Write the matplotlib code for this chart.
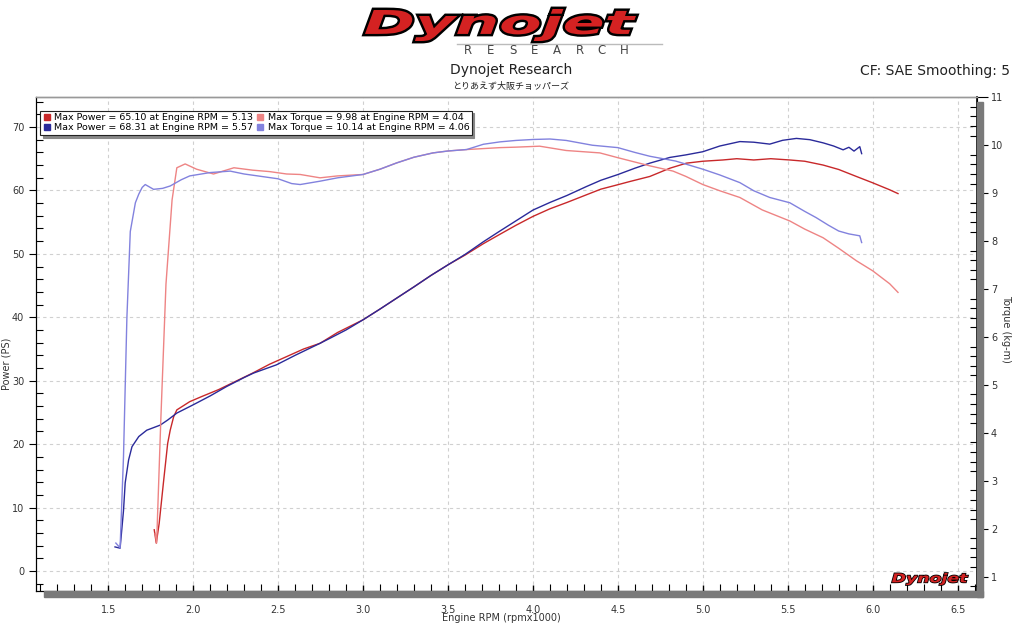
import matplotlib
matplotlib.use("Agg")
import matplotlib.pyplot as plt
import matplotlib.patheffects as pe
from matplotlib.font_manager import FontProperties
from matplotlib.lines import Line2D
from matplotlib.patches import PathPatch, Rectangle
from matplotlib.textpath import TextPath
from matplotlib.ticker import FormatStrFormatter, MultipleLocator
from matplotlib.transforms import Affine2D

plt.rcParams["font.family"] = ["DejaVu Sans", "Noto Sans CJK JP"]

# run 1 (red) power, PS
rpm_power_1 = [1.771, 1.783, 1.80, 1.825, 1.85, 1.865, 1.885, 1.904, 1.98, 2.05, 2.15, 2.25,
               2.35, 2.45, 2.55, 2.65, 2.747, 2.85, 3.0, 3.1, 3.197, 3.3, 3.4, 3.502, 3.6,
               3.708, 3.8, 3.9, 4.0, 4.1, 4.2, 4.314, 4.4, 4.5, 4.57, 4.688, 4.806, 4.904,
               5.0, 5.118, 5.2, 5.3, 5.4, 5.512, 5.6, 5.708, 5.8, 5.904, 6.0, 6.1, 6.149]
power_1 = [6.5, 4.4, 7.5, 13.9, 20.1, 22.2, 24.3, 25.4, 26.7, 27.5, 28.6, 29.9,
           31.2, 32.6, 33.8, 35.0, 35.9, 37.6, 39.6, 41.3, 43.0, 44.8, 46.6, 48.3, 49.8,
           51.6, 53.0, 54.5, 55.9, 57.1, 58.1, 59.3, 60.2, 60.9, 61.4, 62.2, 63.5, 64.3,
           64.6, 64.8, 65.0, 64.8, 65.0, 64.8, 64.6, 64.0, 63.3, 62.2, 61.2, 60.1, 59.5]

# run 2 (blue) power, PS
rpm_power_2 = [1.54, 1.57, 1.59, 1.60, 1.62, 1.64, 1.68, 1.727, 1.806, 1.85, 1.904, 2.0,
               2.1, 2.198, 2.3, 2.355, 2.49, 2.6, 2.747, 2.806, 2.9, 3.0, 3.1, 3.197, 3.3,
               3.4, 3.502, 3.6, 3.708, 3.8, 3.9, 4.0, 4.1, 4.2, 4.314, 4.4, 4.5, 4.6, 4.688,
               4.806, 4.9, 5.0, 5.1, 5.218, 5.3, 5.394, 5.47, 5.551, 5.63, 5.708, 5.77,
               5.826, 5.86, 5.89, 5.924, 5.935]
power_2 = [3.8, 3.6, 9.5, 13.9, 17.5, 19.6, 21.2, 22.2, 23.0, 23.8, 24.9, 26.2,
           27.6, 29.1, 30.5, 31.2, 32.5, 34.0, 35.9, 36.7, 38.0, 39.6, 41.3, 43.0, 44.8,
           46.6, 48.3, 49.9, 51.9, 53.5, 55.2, 56.9, 58.1, 59.2, 60.6, 61.6, 62.5, 63.5, 64.3,
           65.2, 65.6, 66.1, 67.0, 67.7, 67.6, 67.3, 67.9, 68.2, 68.0, 67.5, 67.0,
           66.4, 66.8, 66.2, 66.9, 65.8]

# run 1 (light red) torque, kg-m
rpm_torque_1 = [1.777, 1.785, 1.81, 1.84, 1.876, 1.904, 1.953, 2.02, 2.12, 2.24, 2.35, 2.45,
                2.55, 2.63, 2.747, 2.85, 3.0, 3.1, 3.197, 3.3, 3.412, 3.5, 3.61, 3.806, 3.9,
                4.04, 4.196, 4.394, 4.5, 4.688, 4.825, 4.9, 5.0, 5.1, 5.218, 5.35, 5.512,
                5.6, 5.708, 5.8, 5.904, 6.0, 6.1, 6.149]
torque_1 = [1.9, 1.7, 4.3, 7.1, 8.86, 9.53, 9.61, 9.50, 9.40, 9.53, 9.48, 9.45,
            9.40, 9.39, 9.32, 9.36, 9.39, 9.50, 9.63, 9.75, 9.84, 9.88, 9.91, 9.95, 9.96,
            9.98, 9.89, 9.84, 9.74, 9.57, 9.46, 9.35, 9.18, 9.05, 8.91, 8.65, 8.42,
            8.25, 8.07, 7.85, 7.59, 7.38, 7.11, 6.93]

# run 2 (light blue) torque, kg-m
rpm_torque_2 = [1.545, 1.57, 1.59, 1.61, 1.63, 1.645, 1.66, 1.68, 1.70, 1.718, 1.767, 1.82,
                1.865, 1.93, 1.98, 2.1, 2.218, 2.3, 2.4, 2.5, 2.58, 2.63, 2.747, 2.85, 3.0,
                3.1, 3.197, 3.3, 3.412, 3.5, 3.61, 3.708, 3.806, 3.9, 4.0, 4.1, 4.196, 4.35,
                4.5, 4.6, 4.688, 4.84, 5.0, 5.1, 5.218, 5.3, 5.394, 5.512, 5.6, 5.667, 5.74,
                5.80, 5.86, 5.924, 5.935]
torque_2 = [1.7, 1.6, 3.5, 6.4, 8.2, 8.5, 8.8, 8.98, 9.12, 9.18, 9.08, 9.10,
            9.15, 9.28, 9.36, 9.43, 9.46, 9.40, 9.35, 9.30, 9.20, 9.18, 9.25, 9.32, 9.39,
            9.50, 9.63, 9.75, 9.84, 9.88, 9.91, 10.02, 10.07, 10.10, 10.12, 10.13, 10.10, 10.0,
            9.95, 9.85, 9.77, 9.67, 9.50, 9.38, 9.22, 9.05, 8.91, 8.80, 8.62, 8.49, 8.33,
            8.21, 8.15, 8.11, 7.97]

legend_labels = [
    "Max Power = 65.10 at Engine RPM = 5.13",
    "Max Power = 68.31 at Engine RPM = 5.57",
    "Max Torque = 9.98 at Engine RPM = 4.04",
    "Max Torque = 10.14 at Engine RPM = 4.06",
]

c_pow1, c_pow2 = "#c8282a", "#2a2a9a"
c_tq1, c_tq2 = "#ee8484", "#8282de"
tick_col = "#333333"

fig = plt.figure(figsize=(10.24, 6.39), dpi=100)
W, H = 1024, 639


def fx(px):
    return px / W


def fy(py):
    return 1 - py / H


def logo(text, x0, y0, x1, y1, stroke):
    # draw a text path stretched into the pixel box (x0, y0) - (x1, y1)
    tp = TextPath((0, 0), text, size=10,
                  prop=FontProperties(family="DejaVu Sans", weight="heavy", style="italic"))
    ext = tp.get_extents()
    sx = (x1 - x0) / ext.width
    sy = (y1 - y0) / ext.height
    tr = (Affine2D().translate(-ext.x0, -ext.y0).scale(sx, sy)
          .translate(x0, H - y1).scale(1 / W, 1 / H) + fig.transFigure)
    patch = PathPatch(tp, transform=tr, facecolor="#d42222", edgecolor="none",
                      path_effects=[pe.Stroke(linewidth=stroke, foreground="black"), pe.Normal()])
    fig.add_artist(patch)


ax = fig.add_axes([fx(36), fy(591), fx(977) - fx(36), fy(97.3) - fy(591)])
ax2 = ax.twinx()

# grid
ax.set_axisbelow(True)
ax.grid(True, which="major", color="#d0d0d0", linestyle=(0, (3, 3)), linewidth=0.8)

# curves
ax.plot(rpm_power_1, power_1, color=c_pow1, lw=1.0, zorder=3)
ax.plot(rpm_power_2, power_2, color=c_pow2, lw=1.0, zorder=3)
ax2.plot(rpm_torque_1, torque_1, color=c_tq1, lw=1.0, zorder=2)
ax2.plot(rpm_torque_2, torque_2, color=c_tq2, lw=1.0, zorder=2)

ax.set_xlim(1.075, 6.614)
ax.set_ylim(-3.15, 74.68)
ax2.set_ylim(0.70, 11.0)

ax.xaxis.set_major_locator(MultipleLocator(0.5))
ax.xaxis.set_minor_locator(MultipleLocator(0.1))
ax.yaxis.set_major_locator(MultipleLocator(10))
ax.yaxis.set_minor_locator(MultipleLocator(2))
ax2.yaxis.set_major_locator(MultipleLocator(1))
ax2.yaxis.set_minor_locator(MultipleLocator(0.2))
ax.xaxis.set_major_formatter(FormatStrFormatter("%.1f"))

ax.tick_params(axis="x", which="major", direction="inout", length=8, width=1,
               labelsize=7, labelcolor=tick_col, pad=6)
ax.tick_params(axis="x", which="minor", direction="in", length=5, width=0.8)
ax.tick_params(axis="y", which="major", direction="out", length=5, width=0.8,
               labelsize=7, labelcolor=tick_col)
ax.tick_params(axis="y", which="minor", direction="in", length=5, width=0.8)
ax2.tick_params(axis="y", which="major", direction="out", length=8, width=0.8,
                labelsize=7, labelcolor=tick_col, pad=2)
ax2.tick_params(axis="y", which="minor", direction="in", length=5, width=0.8)

for a in (ax, ax2):
    a.spines["top"].set_color("#999999")
    a.spines["top"].set_linewidth(1.0)
ax2.spines["right"].set_linewidth(1.2)

ax.set_xlabel("Engine RPM (rpmx1000)", fontsize=7, color=tick_col)
ax.xaxis.set_label_coords(0.495, -0.045)
ax.set_ylabel("Power (PS)", fontsize=7, color=tick_col)
ax.yaxis.set_label_coords(-0.026, 0.46)
ax2.set_ylabel("Torque (kg-m)", fontsize=7, color=tick_col, rotation=270)
ax2.yaxis.set_label_coords(1.036, 0.53)

# 3D-style shadow bars along bottom and right edges
fig.patches.append(Rectangle((fx(44), fy(597)), fx(983) - fx(44), fy(591) - fy(597),
                             transform=fig.transFigure, color="#7a7a7a", zorder=0))
fig.patches.append(Rectangle((fx(977), fy(597)), fx(983) - fx(977), fy(102) - fy(597),
                             transform=fig.transFigure, color="#7a7a7a", zorder=0))

# legend
handles = [
    Line2D([], [], marker="s", linestyle="none", markersize=5, color=c_pow1),
    Line2D([], [], marker="s", linestyle="none", markersize=5, color=c_pow2),
    Line2D([], [], marker="s", linestyle="none", markersize=5, color=c_tq1),
    Line2D([], [], marker="s", linestyle="none", markersize=5, color=c_tq2),
]
leg = ax2.legend(handles, legend_labels, ncol=2, loc="upper left",
                 bbox_to_anchor=(0.004, 0.973), fontsize=6.8, frameon=True,
                 fancybox=False, shadow={"color": "#888888", "alpha": 1.0},
                 borderpad=0.25, labelspacing=0.15, handlelength=1.0,
                 handletextpad=0.3, columnspacing=0.2, borderaxespad=0)
leg.get_frame().set_edgecolor("#222222")
leg.get_frame().set_linewidth(0.8)

# logos
logo("Dynojet", 365, 9, 636, 41, 3.5)
logo("Dynojet", 892, 573, 968, 585, 1.2)
fig.add_artist(Line2D([fx(457), fx(662)], [fy(44), fy(44)], color="#bbbbbb", lw=1,
                      transform=fig.transFigure))
for i, ch in enumerate("RESEARCH"):
    fig.text(fx(468 + i * 22.3), fy(51), ch, ha="center", va="center",
             fontsize=8.5, color="#444444")

# titles
fig.text(fx(511), fy(70), "Dynojet Research", ha="center", va="center",
         fontsize=10, color="#222222")
fig.text(fx(511), fy(86), "とりあえず大阪チョッパーズ", ha="center", va="center",
         fontsize=6.5, color="#222222")
fig.text(fx(1010), fy(71), "CF: SAE Smoothing: 5", ha="right", va="center",
         fontsize=10, color="#222222")

fig.savefig("out.png", dpi=100)
